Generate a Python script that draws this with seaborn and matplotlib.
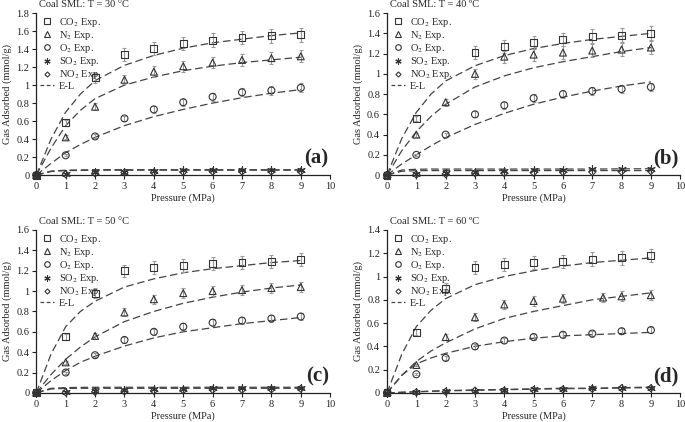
import numpy as np
import pandas as pd
import seaborn as sns
import matplotlib
matplotlib.use("Agg")
import matplotlib.pyplot as plt
from matplotlib.lines import Line2D
from matplotlib.ticker import FuncFormatter

# experimental pressures (MPa)
P = [0, 1, 2, 3, 4, 5, 6, 7, 8, 9]
P_N2_60 = [0, 1, 2, 3, 4, 5, 6, 7.37, 8, 9]
P_FIT = [0, 0.5, 1, 1.5, 2, 3, 4, 5, 6, 7, 8, 9]

GASES = ["CO2", "N2", "O2", "SO2", "NO2"]
LABELS = ["CO$_2$ Exp.", "N$_2$ Exp.", "O$_2$ Exp.", "SO$_2$ Exp.", "NO$_2$ Exp."]
TEMPS = ["30 °C", "40 ºC", "50 °C", "60 ºC"]
PANEL_TAGS = ["(a)", "(b)", "(c)", "(d)"]
YMAX = [1.8, 1.6, 1.6, 1.4]
ERR_FRAC = 0.05  # error bars about 5 % of value

EXP_30 = {
    "CO2": [0, 0.58, 1.08, 1.34, 1.41, 1.46, 1.50, 1.53, 1.55, 1.56],
    "N2": [0, 0.42, 0.76, 1.06, 1.15, 1.21, 1.25, 1.28, 1.30, 1.32],
    "O2": [0, 0.22, 0.43, 0.63, 0.73, 0.81, 0.87, 0.92, 0.94, 0.97],
    "SO2": [0, 0.01, 0.03, 0.04, 0.05, 0.055, 0.06, 0.06, 0.06, 0.06],
    "NO2": [0, 0.01, 0.02, 0.03, 0.03, 0.035, 0.04, 0.04, 0.04, 0.04],
}
FIT_30 = {
    "CO2": [0, 0.40, 0.70, 0.90, 1.05, 1.22, 1.33, 1.41, 1.47, 1.51, 1.55, 1.58],
    "N2": [0, 0.30, 0.55, 0.72, 0.85, 1.00, 1.09, 1.16, 1.21, 1.25, 1.28, 1.31],
    "O2": [0, 0.13, 0.25, 0.34, 0.42, 0.55, 0.65, 0.73, 0.80, 0.86, 0.91, 0.95],
    "SO2": [0, 0.045, 0.055, 0.058, 0.06, 0.06, 0.06, 0.06, 0.06, 0.06, 0.06, 0.06],
    "NO2": [0, 0.04, 0.05, 0.052, 0.055, 0.055, 0.055, 0.055, 0.055, 0.055, 0.055, 0.055],
}

EXP_40 = {
    "CO2": [0, 0.56, np.nan, 1.21, 1.27, 1.31, 1.34, 1.37, 1.38, 1.40],
    "N2": [0, 0.40, 0.72, 1.00, 1.17, 1.19, 1.21, 1.23, 1.24, 1.26],
    "O2": [0, 0.20, 0.40, 0.60, 0.69, 0.76, 0.80, 0.83, 0.85, 0.87],
    "SO2": [0, 0.01, 0.02, 0.03, 0.04, 0.05, 0.055, 0.06, 0.06, 0.065],
    "NO2": [0, 0.005, 0.01, 0.02, 0.02, 0.025, 0.03, 0.03, 0.035, 0.04],
}
FIT_40 = {
    "CO2": [0, 0.36, 0.62, 0.80, 0.93, 1.08, 1.18, 1.25, 1.30, 1.34, 1.37, 1.40],
    "N2": [0, 0.24, 0.43, 0.58, 0.70, 0.87, 0.98, 1.06, 1.12, 1.17, 1.22, 1.26],
    "O2": [0, 0.11, 0.20, 0.29, 0.37, 0.50, 0.61, 0.70, 0.77, 0.83, 0.88, 0.92],
    "SO2": [0, 0.05, 0.058, 0.06, 0.06, 0.06, 0.06, 0.06, 0.06, 0.06, 0.062, 0.063],
    "NO2": [0, 0.038, 0.044, 0.045, 0.045, 0.045, 0.045, 0.045, 0.045, 0.045, 0.045, 0.045],
}

EXP_50 = {
    "CO2": [0, 0.55, 0.98, 1.20, 1.23, 1.25, 1.27, 1.28, 1.29, 1.31],
    "N2": [0, 0.30, 0.56, 0.79, 0.92, 0.98, 1.00, 1.01, 1.03, 1.04],
    "O2": [0, 0.20, 0.37, 0.52, 0.60, 0.65, 0.69, 0.71, 0.73, 0.75],
    "SO2": [0, 0.01, 0.02, 0.03, 0.035, 0.04, 0.045, 0.05, 0.05, 0.05],
    "NO2": [0, 0.005, 0.01, 0.015, 0.02, 0.025, 0.03, 0.03, 0.035, 0.04],
}
FIT_50 = {
    "CO2": [0, 0.38, 0.65, 0.80, 0.90, 1.04, 1.12, 1.18, 1.22, 1.25, 1.28, 1.30],
    "N2": [0, 0.18, 0.33, 0.45, 0.55, 0.70, 0.80, 0.88, 0.94, 0.99, 1.03, 1.06],
    "O2": [0, 0.12, 0.22, 0.30, 0.36, 0.46, 0.54, 0.60, 0.64, 0.68, 0.71, 0.74],
    "SO2": [0, 0.045, 0.052, 0.054, 0.055, 0.055, 0.055, 0.055, 0.055, 0.055, 0.055, 0.055],
    "NO2": [0, 0.038, 0.044, 0.045, 0.045, 0.045, 0.045, 0.045, 0.045, 0.045, 0.045, 0.045],
}

EXP_60 = {
    "CO2": [0, 0.52, 0.90, 1.08, 1.10, 1.12, 1.13, 1.15, 1.16, 1.18],
    "N2": [0, 0.24, 0.48, 0.65, 0.76, 0.79, 0.81, 0.82, 0.83, 0.84],
    "O2": [0, 0.16, 0.30, 0.40, 0.45, 0.48, 0.50, 0.51, 0.53, 0.54],
    "SO2": [0, 0.01, 0.015, 0.02, 0.025, 0.03, 0.035, 0.04, 0.04, 0.045],
    "NO2": [0, 0.005, 0.01, 0.02, 0.02, 0.025, 0.03, 0.035, 0.04, 0.04],
}
FIT_60 = {
    "CO2": [0, 0.33, 0.57, 0.71, 0.81, 0.93, 1.00, 1.05, 1.09, 1.12, 1.14, 1.16],
    "N2": [0, 0.15, 0.27, 0.36, 0.43, 0.55, 0.64, 0.70, 0.75, 0.80, 0.83, 0.86],
    "O2": [0, 0.15, 0.25, 0.30, 0.34, 0.40, 0.44, 0.47, 0.49, 0.50, 0.51, 0.52],
    "SO2": [0, 0.005, 0.01, 0.015, 0.02, 0.025, 0.03, 0.035, 0.04, 0.04, 0.045, 0.05],
    "NO2": [0, 0.005, 0.01, 0.013, 0.017, 0.022, 0.027, 0.032, 0.036, 0.038, 0.042, 0.045],
}

EXPS = [EXP_30, EXP_40, EXP_50, EXP_60]
FITS = [FIT_30, FIT_40, FIT_50, FIT_60]

sns.set_style("ticks")
plt.rcParams['font.family'] = ['Liberation Serif', 'DejaVu Serif']
plt.rcParams['mathtext.fontset'] = 'stix'

MARKERS = {"CO2": "s", "N2": "^", "O2": "o", "SO2": (6, 2, 0), "NO2": "D"}
MSIZE = {"CO2": 5, "N2": 5, "O2": 5, "SO2": 5.5, "NO2": 3.6}
EDGE = "#333333"
FS = 7.5

fig = plt.figure(figsize=(6.85, 4.22), dpi=100)
positions = [
    [0.053, 0.585, 0.429, 0.384],
    [0.565, 0.585, 0.428, 0.384],
    [0.053, 0.069, 0.429, 0.386],
    [0.565, 0.069, 0.428, 0.386],
]

for i in range(4):
    ax = fig.add_axes(positions[i])
    exp = EXPS[i]
    fit = FITS[i]

    for g in GASES:
        sns.lineplot(x=P_FIT, y=fit[g], ax=ax, color="#444444", lw=0.9,
                     linestyle=(0, (6, 3)), legend=False)

    for g in GASES:
        px = P_N2_60 if (i == 3 and g == "N2") else P
        y = np.array(exp[g], dtype=float)
        if g in ("CO2", "N2", "O2"):
            ax.errorbar(px, y, yerr=ERR_FRAC * y, fmt="none", ecolor="#9a9a9a",
                        elinewidth=0.8, capsize=1.5, capthick=0.8, zorder=2)
        sns.scatterplot(x=px, y=y, ax=ax, marker=MARKERS[g],
                        s=MSIZE[g] ** 2, facecolor="none", edgecolor=EDGE,
                        linewidth=0.8, zorder=3, clip_on=False, legend=False)
        if g == "SO2":
            ax.collections[-1].set_color(EDGE)

    ax.set_xlim(0, 10)
    ax.set_ylim(0, YMAX[i])
    ax.set_xticks(range(0, 11))
    ax.set_yticks(np.arange(0, YMAX[i] + 0.01, 0.2))
    ax.yaxis.set_major_formatter(FuncFormatter(lambda v, pos: "%g" % round(v, 1)))
    ax.tick_params(labelsize=FS, length=3, width=0.8, colors="#222222", pad=2)
    for s in ("top", "right"):
        ax.spines[s].set_visible(False)
    for s in ("left", "bottom"):
        ax.spines[s].set_linewidth(0.9)
        ax.spines[s].set_color("#222222")
    ax.set_xlabel("Pressure (MPa)", fontsize=FS, labelpad=2)
    ax.set_ylabel("Gas Adsorbed (mmol/g)", fontsize=FS, labelpad=3)
    ax.text(0.01, 1.025, "Coal SML: T = " + TEMPS[i], transform=ax.transAxes,
            fontsize=FS, ha="left", va="bottom")
    ax.text(0.995, 0.04, PANEL_TAGS[i], transform=ax.transAxes, fontsize=15,
            fontweight="bold", ha="right", va="bottom")

    handles = []
    for g, lab in zip(GASES, LABELS):
        handles.append(Line2D([], [], ls="none", marker=MARKERS[g],
                              markersize=MSIZE[g] - 1, markerfacecolor="none",
                              markeredgecolor=EDGE, markeredgewidth=0.8, label=lab))
    handles.append(Line2D([], [], color="#444444", lw=0.9, ls=(0, (3, 2)), label="E-L"))
    ax.legend(handles=handles, loc="upper left", bbox_to_anchor=(0.0, 1.01),
              frameon=False, fontsize=FS, handlelength=1.3, handletextpad=0.5,
              labelspacing=0.02, borderpad=0.2, borderaxespad=0.2)

fig.savefig("out.png", dpi=100)
